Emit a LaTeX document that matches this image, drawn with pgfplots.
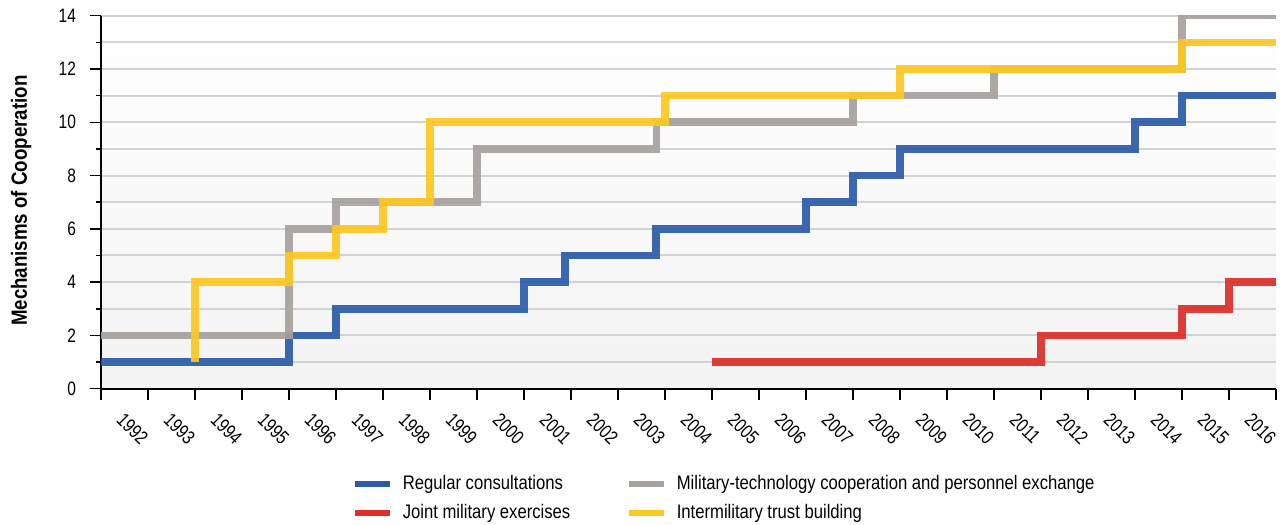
\documentclass[border=0pt]{standalone}
\usepackage{fontspec}
\setmainfont{Liberation Sans}[FakeStretch=0.85]
\newfontfamily\tickfont{Liberation Sans}[FakeStretch=0.8]
\usepackage{pgfplots}
\pgfplotsset{compat=1.18}
\definecolor{cblue}{HTML}{2A5BA7}
\definecolor{cred}{HTML}{DB2F27}
\definecolor{cgray}{HTML}{A7A19E}
\definecolor{cyellow}{HTML}{FEC721}
\definecolor{cgrid}{HTML}{D2D2D2}
\definecolor{cbgbot}{HTML}{F3F3F3}
\begin{document}
\begin{tikzpicture}
\begin{axis}[
  scale only axis, width=587.5pt, height=186.5pt,
  xmin=0, xmax=25, ymin=0, ymax=14,
  axis x line*=bottom, axis y line*=left,
  axis line style={line width=0.8pt, black},
  axis background/.style={shade, top color=white, bottom color=cbgbot},
  xtick={0,...,25},
  x tick label as interval,
  xticklabels={1992,1993,1994,1995,1996,1997,1998,1999,2000,2001,2002,2003,2004,2005,2006,2007,2008,2009,2010,2011,2012,2013,2014,2015,2016},
  ytick={0,2,...,14},
  minor ytick={1,3,...,13},
  ymajorgrids, yminorgrids,
  major grid style={cgrid, line width=1pt},
  minor grid style={cgrid, line width=1pt},
  tick align=outside,
  major tick length=5.5pt, minor tick length=2.5pt,
  tick style={black, line width=0.75pt},
  /pgf/number format/assume math mode=true,
  xticklabel style={font=\tickfont\fontsize{9.7}{11}\selectfont, rotate=-45, anchor=north west, xshift=1pt, yshift=-0.5pt},
  yticklabel style={font=\tickfont\fontsize{9.7}{11}\selectfont, xshift=-3.5pt},
  ylabel={\bfseries Mechanisms of Cooperation},
  ylabel style={font=\fontsize{11}{13}\selectfont, at={(axis description cs:-0.068,0.504)}, anchor=center},
  legend columns=2,
  legend cell align=left,
  legend style={at={(axis description cs:0.208,-0.212)}, anchor=north west, draw=none, fill=none,
    font=\fontsize{9.8}{11}\selectfont, nodes={inner sep=1.5pt}, row sep=2.8pt,
    /tikz/every odd column/.append style={column sep=3.5pt},
    /tikz/every even column/.append style={column sep=3pt}},
  legend image code/.code={\draw[line width=3pt, opacity=1] (0pt,0pt) -- (17.5pt,0pt);},
  every axis plot/.append style={const plot, line width=3.8pt, opacity=0.92, no markers},
]
\addplot[cblue] coordinates {(0,1) (4,2) (5,3) (9,4) (9.87,5) (11.81,6) (15,7) (16,8) (17,9) (22,10) (23,11) (25,11)};
\addlegendentry{\makebox[107pt][l]{Regular consultations}}
\addplot[cgray] coordinates {(0,2) (4,6) (5,7) (8,9) (11.82,10) (16,11) (19,12) (23,14) (25,14)};
\addlegendentry{Military-technology cooperation and personnel exchange}
\addplot[cred] coordinates {(13,1) (20,2) (23,3) (24,4) (25,4)};
\addlegendentry{\makebox[107pt][l]{Joint military exercises}}
\addplot[cyellow] coordinates {(2,1) (2,4) (4,5) (5,6) (6,7) (7,10) (12,11) (17,12) (23,13) (25,13)};
\addlegendentry{Intermilitary trust building}
\coordinate (bbsw) at (axis description cs:-0.08596,-0.36461);
\coordinate (bbne) at (axis description cs:1.00936,1.04209);
\end{axis}
\pgfresetboundingbox
\path (bbsw) rectangle (bbne);
\end{tikzpicture}
\end{document}
